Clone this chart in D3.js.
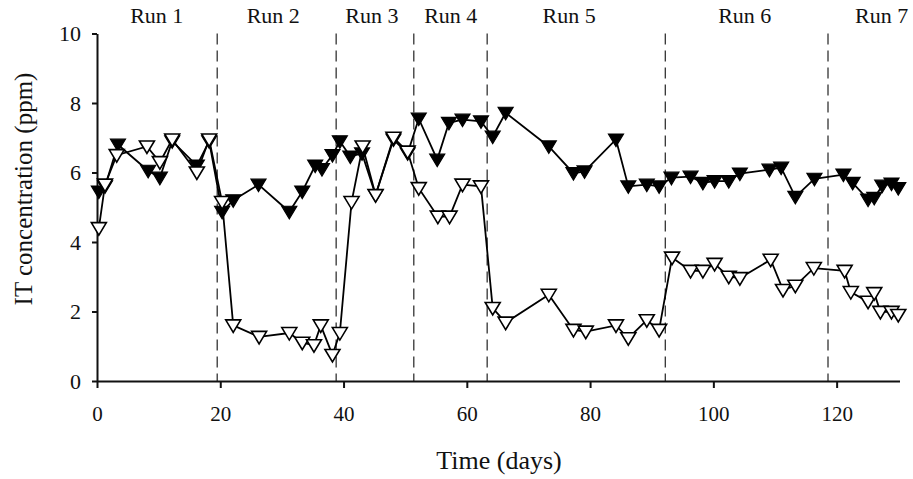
<!DOCTYPE html>
<html>
<head>
<meta charset="utf-8">
<script src="https://cdn.jsdelivr.net/npm/d3@7/dist/d3.min.js"></script>
<style>
  html, body { margin: 0; padding: 0; background: #fff; }
  svg { display: block; }
  text { font-family: "Liberation Serif", "Times New Roman", serif; fill: #111; }
</style>
</head>
<body>
<svg id="chart" width="913" height="479"></svg>
<script>
// ---- data ----
const filledDays = [0.3, 1.3, 3.4, 8.3, 10.2, 12.2, 16.2, 18.2, 20.3, 22.1, 26.2, 31.2, 33.3, 35.4, 36.5, 38.2, 39.4, 41.1, 43.0, 45.2, 48.1, 50.4, 52.2, 55.2, 57.1, 59.3, 62.3, 64.2, 66.3, 73.3, 77.3, 79.1, 84.2, 86.2, 89.2, 91.2, 93.2, 96.3, 98.3, 100.2, 102.5, 104.3, 109.1, 111.0, 113.3, 116.4, 121.1, 122.6, 125.1, 126.1, 127.4, 128.9, 130.0];
const filledIT   = [5.45, 5.6, 6.8, 6.05, 5.85, 6.9, 6.2, 6.9, 4.87, 5.2, 5.65, 4.87, 5.45, 6.2, 6.1, 6.5, 6.9, 6.46, 6.55, 5.35, 6.95, 6.55, 7.55, 6.37, 7.43, 7.52, 7.47, 7.03, 7.72, 6.75, 5.98, 6.03, 6.95, 5.6, 5.65, 5.6, 5.85, 5.88, 5.7, 5.75, 5.75, 5.97, 6.08, 6.14, 5.3, 5.82, 5.94, 5.7, 5.22, 5.27, 5.62, 5.68, 5.55];
const openDays   = [0.3, 1.3, 3.2, 8.1, 10.2, 12.2, 16.2, 18.2, 20.3, 22.1, 26.3, 31.2, 33.3, 35.2, 36.3, 38.2, 39.4, 41.3, 43.1, 45.2, 48.1, 50.4, 52.2, 55.3, 57.2, 59.3, 62.3, 64.2, 66.3, 73.3, 77.3, 79.3, 84.2, 86.2, 89.2, 91.2, 93.3, 96.3, 98.3, 100.2, 102.5, 104.3, 109.3, 111.3, 113.3, 116.3, 121.3, 122.3, 125.1, 126.1, 127.1, 128.9, 130.0];
const openIT     = [4.4, 5.65, 6.5, 6.75, 6.3, 6.95, 6.0, 6.95, 5.15, 1.6, 1.27, 1.38, 1.1, 1.03, 1.6, 0.75, 1.38, 5.15, 6.75, 5.35, 7.0, 6.6, 5.55, 4.73, 4.73, 5.65, 5.6, 2.1, 1.68, 2.48, 1.47, 1.42, 1.6, 1.23, 1.75, 1.47, 3.55, 3.17, 3.17, 3.37, 3.0, 2.96, 3.49, 2.62, 2.74, 3.25, 3.17, 2.56, 2.28, 2.53, 1.99, 1.99, 1.9];
const runBoundaries = [19.5, 38.8, 51.4, 63.3, 92.2, 118.6];
const runLabels     = ["Run 1", "Run 2", "Run 3", "Run 4", "Run 5", "Run 6", "Run 7"];
const runLabelDays  = [9.7, 28.6, 44.6, 57.4, 76.6, 105.1, 127.3];
const xTicks = [0, 20, 40, 60, 80, 100, 120];
const yTicks = [0, 2, 4, 6, 8, 10];
const xTitle = "Time (days)";
const yTitle = "IT concentration (ppm)";

// ---- layout ----
const svg = d3.select("#chart");
const x = d3.scaleLinear().domain([0, 130.2]).range([97, 899.5]);
const y = d3.scaleLinear().domain([0, 10]).range([381, 33.5]);

// run boundaries
svg.append("g").selectAll("line").data(runBoundaries).join("line")
  .attr("x1", d => x(d)).attr("x2", d => x(d))
  .attr("y1", y(10)).attr("y2", y(0))
  .attr("stroke", "#222").attr("stroke-width", 1.2)
  .attr("stroke-dasharray", "11,6");

// run labels
svg.append("g").selectAll("text").data(runLabels).join("text")
  .attr("x", (d, i) => x(runLabelDays[i]))
  .attr("y", 23)
  .attr("text-anchor", "middle")
  .attr("font-size", 22)
  .text(d => d);

// axes
const xAxis = d3.axisBottom(x).tickValues(xTicks).tickSize(7).tickPadding(18).tickSizeOuter(0);
const gx = svg.append("g").attr("transform", `translate(0,${y(0)})`).call(xAxis);
gx.select(".domain").attr("stroke", "#111").attr("stroke-width", 2);
gx.selectAll(".tick line").attr("stroke", "#111").attr("stroke-width", 2);
gx.selectAll(".tick text").attr("font-size", 21).attr("font-family", "Liberation Serif, serif").attr("fill", "#111");

const yAxis = d3.axisLeft(y).tickValues(yTicks).tickSize(5).tickPadding(11).tickSizeOuter(0);
const gy = svg.append("g").attr("transform", `translate(${x(0)},0)`).call(yAxis);
gy.select(".domain").attr("stroke", "#111").attr("stroke-width", 2);
gy.selectAll(".tick line").attr("stroke", "#111").attr("stroke-width", 2);
gy.selectAll(".tick text").attr("font-size", 22).attr("font-family", "Liberation Serif, serif").attr("fill", "#111");

// axis titles
svg.append("text").attr("x", 499).attr("y", 469).attr("text-anchor", "middle")
  .attr("font-size", 26).text(xTitle);
svg.append("text").attr("transform", "translate(32,189) rotate(-90)")
  .attr("text-anchor", "middle").attr("font-size", 25).text(yTitle);

// series
const filled = filledDays.map((d, i) => ({ d, v: filledIT[i] }));
const open = openDays.map((d, i) => ({ d, v: openIT[i] }));
const line = d3.line().x(p => x(p.d)).y(p => y(p.v));

svg.append("path").datum(filled).attr("d", line)
  .attr("fill", "none").attr("stroke", "#000").attr("stroke-width", 1.8);
svg.append("path").datum(open).attr("d", line)
  .attr("fill", "none").attr("stroke", "#000").attr("stroke-width", 1.8);

const tri = "M-7.5,-5.5L7.5,-5.5L0,7Z";
svg.append("g").selectAll("path").data(filled).join("path")
  .attr("transform", p => `translate(${x(p.d)},${y(p.v)})`)
  .attr("d", tri).attr("fill", "#000").attr("stroke", "#000").attr("stroke-width", 1.2);
svg.append("g").selectAll("path").data(open).join("path")
  .attr("transform", p => `translate(${x(p.d)},${y(p.v)})`)
  .attr("d", tri).attr("fill", "#fff").attr("stroke", "#000").attr("stroke-width", 1.6);
</script>
</body>
</html>
